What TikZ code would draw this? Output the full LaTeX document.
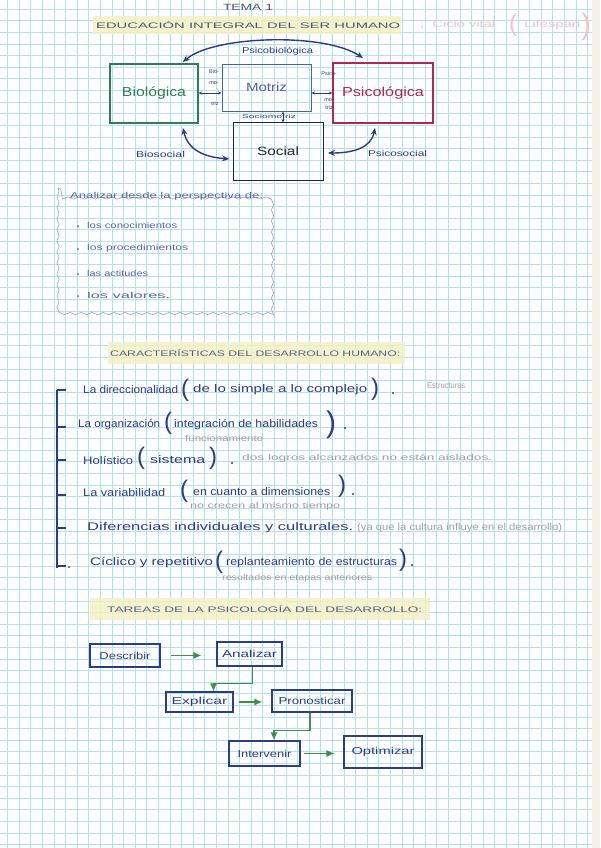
\documentclass[tikz,border=0pt]{standalone}
\usepackage{fontspec}
\setmainfont{Liberation Sans}
\usepackage{graphicx}
\usetikzlibrary{arrows.meta,decorations.pathmorphing,calc}
\definecolor{gridc}{HTML}{B3E1EC}
\definecolor{edgec}{HTML}{F4F2E6}
\definecolor{inkblue}{HTML}{2A3C8C}
\definecolor{titlec}{HTML}{4E5670}
\definecolor{headc}{HTML}{56618A}
\definecolor{biogreen}{HTML}{2F7F50}
\definecolor{psired}{HTML}{B3264F}
\definecolor{motblue}{HTML}{4A62A8}
\definecolor{soccol}{HTML}{23233A}
\definecolor{wavyc}{HTML}{5667A6}
\definecolor{wavyline}{HTML}{9AA3C4}
\definecolor{pencilc}{HTML}{A0A0A0}
\definecolor{pinkc}{HTML}{F0C2CF}
\definecolor{hlc}{HTML}{F3F0C2}
\definecolor{garrowc}{HTML}{3D8F4A}
\newcommand\fitw[2]{\resizebox{#1pt}{\height}{#2}}
\tikzset{
  gridline/.style={draw=gridc, line width=0.6pt},
  hl/.style={fill=hlc, opacity=0.8},
  ink/.style={text=inkblue, inner sep=0pt, anchor=west, font=\fontsize{11}{11}\selectfont},
  paren/.style={text=inkblue, inner sep=0pt, font=\fontsize{24}{24}\selectfont},
  pencil/.style={text=pencilc, inner sep=0pt, anchor=west, font=\fontsize{8.5}{8.5}\selectfont},
  wtext/.style={text=wavyc, inner sep=0pt, anchor=west, font=\fontsize{8.5}{8.5}\selectfont},
  headtext/.style={text=headc, inner sep=0pt, anchor=west, font=\fontsize{8}{8}\selectfont},
  blab/.style={text=inkblue, inner sep=0pt, font=\fontsize{8.5}{8.5}\selectfont},
  tiny/.style={text=inkblue, inner sep=0pt, font=\fontsize{5.5}{5.5}\selectfont},
  barrow/.style={draw=inkblue, line width=1.4pt, {Stealth[length=7pt,width=6pt]}-{Stealth[length=7pt,width=6pt]}},
  sarrow/.style={draw=inkblue, line width=0.7pt, {Stealth[length=3.5pt,width=3pt]}-{Stealth[length=3.5pt,width=3pt]}},
  fbox/.style={draw=inkblue, line width=1.1pt, text=inkblue, inner sep=0pt, font=\fontsize{10}{10}\selectfont},
  garrow/.style={draw=garrowc, line width=1.4pt, -{Latex[length=8pt,width=7pt]}},
  wavy/.style={draw=wavyline, line width=0.6pt, decorate, decoration={snake, amplitude=1.1pt, segment length=11pt}},
}
\begin{document}
\begin{tikzpicture}[x=1pt,y=-1pt]
\useasboundingbox (0,0) rectangle (600,848);
\fill[white] (0,0) rectangle (600,848);
\fill[edgec] (592,0) rectangle (600,848);
% grid paper
\foreach \i in {0,...,50} { \draw[gridline] ({7.5+11.6*\i},0) -- ++(0,848); }
\foreach \j in {0,...,72} { \draw[gridline] (0,{9.2+11.6*\j}) -- ++(592,0); }

% ---------- title ----------
\node[text=titlec, inner sep=0pt, font=\fontsize{9}{9}\selectfont] (tema) at (248,7) {\fitw{50}{TEMA 1}};
\fill[hl] (93,16) rectangle (401,34);
\node[text=titlec, inner sep=0pt, anchor=west, font=\fontsize{8}{8}\selectfont] (edu) at (96,25) {\fitw{304}{EDUCACIÓN INTEGRAL DEL SER HUMANO}};
\node[text=pinkc, inner sep=0pt, anchor=west, font=\fontsize{10}{10}\selectfont] (ciclo) at (420,25) {\fitw{75}{;\ \ Ciclo vital}};
\node[text=pinkc, inner sep=0pt, font=\fontsize{24}{24}\selectfont] (cpa) at (513,25) {(};
\node[text=pinkc, inner sep=0pt, anchor=west, font=\fontsize{10}{10}\selectfont] (life) at (524,25) {\fitw{56}{Lifespan}};
\node[text=pinkc, inner sep=0pt, font=\fontsize{30}{30}\selectfont] (cpb) at (586,27) {)};

% ---------- dimensions diagram ----------
\node[draw=biogreen, line width=1.1pt, minimum width=88pt, minimum height=59pt, inner sep=0pt, text=biogreen, font=\fontsize{13}{13}\selectfont] (bio) at (154,93.5) {\fitw{64}{Biológica}};
\node[draw=motblue, line width=0.9pt, minimum width=89pt, minimum height=47pt, inner sep=0pt, text=motblue, font=\fontsize{12}{12}\selectfont] (motriz) at (266.5,87.5) {\fitw{41}{Motriz}};
\node[draw=psired, line width=1.3pt, minimum width=100pt, minimum height=60pt, inner sep=0pt, text=psired, font=\fontsize{13}{13}\selectfont] (psico) at (383,93) {\fitw{82}{Psicológica}};
\node[draw=soccol, line width=1pt, minimum width=90pt, minimum height=57pt, inner sep=0pt, text=soccol, font=\fontsize{12}{12}\selectfont] (social) at (278,151.5) {\fitw{42}{Social}};

\coordinate (pbL) at (183,62);
\coordinate (pbR) at (363,58);
\draw[barrow] (pbL) .. controls +(30,-26) and +(-40,-26) .. (pbR);
\node[blab] (lpb) at (277.5,51) {\fitw{71}{Psicobiológica}};

\coordinate (bsA) at (183,128);
\coordinate (bsB) at (229,159);
\draw[barrow] (bsA) .. controls +(5,22) and +(-25,-2) .. (bsB);
\node[blab] (lbs) at (160.5,154) {\fitw{49}{Biosocial}};

\coordinate (psA) at (375,128);
\coordinate (psB) at (328,153);
\draw[barrow] (psA) .. controls +(-4,20) and +(25,0) .. (psB);
\node[blab] (lps) at (397.5,153) {\fitw{59}{Psicosocial}};

\coordinate (bm) at (0,93);
\draw[sarrow] (bio.east |- bm) -- (motriz.west |- bm);
\draw[sarrow] (motriz.east |- bm) -- (psico.west |- bm);
\coordinate (sm) at (283,0);
\draw[sarrow] (motriz.south -| sm) -- (social.north -| sm);
\node[tiny] (bm1) at (214,72) {Bio-};
\node[tiny] (bm2) at (214,83) {mo-};
\node[tiny] (bm3) at (215,104) {triz};
\node[tiny] (pm1) at (329,74) {Psico-};
\node[tiny] (pm2) at (329,100) {mo-};
\node[tiny] (pm3) at (329,108) {triz};
\node[tiny] (smt) at (269,117) {\fitw{54}{Sociomotriz}};

% ---------- wavy box ----------
\draw[wavy] (58,188) rectangle (272,308);
\node[wtext] (w0) at (70,196) {\fitw{193}{Analizar desde la perspectiva de:}};
\foreach \yy/\ww/\tt/\nn in {225/90/los conocimientos/w1, 248/101/los procedimientos/w2, 273/61/las actitudes/w3, 295/83/los valores./w4} {
  \fill[wavyc] (78,\yy+1) circle (1pt);
  \node[wtext] (\nn) at (87,\yy) {\fitw{\ww}{\tt}};
}

% ---------- characteristics ----------
\fill[hl] (108,342) rectangle (405,364);
\node[headtext] (carh) at (110,353) {\fitw{290}{CARACTERÍSTICAS DEL DESARROLLO HUMANO:}};

\draw[inkblue, line width=1.1pt] (57,390) -- (57,568);
\foreach \yy in {390,427,460,495,528,566} { \draw[inkblue, line width=1.1pt] (57,\yy) -- (66,\yy); }
\fill[inkblue] (69,567) circle (1pt);

% item 1
\node[ink] (i1a) at (83,390) {\fitw{95}{La direccionalidad}};
\node[paren] (i1b) at (185,390) {(};
\node[ink] (i1c) at (193,390) {\fitw{174}{de lo simple a lo complejo}};
\node[paren] (i1d) at (375,389) {)};
\fill[inkblue] (393,393) circle (1.2pt);
\node[pencil] (p1) at (427,386) {\fitw{38}{Estructuras}};
% item 2
\node[ink] (i2a) at (78,425) {\fitw{82}{La organización}};
\node[paren] (i2b) at (168,423) {(};
\node[ink] (i2c) at (174,425) {\fitw{144}{integración de habilidades}};
\node[paren, font=\fontsize{30}{30}\selectfont] (i2d) at (331,425) {)};
\fill[inkblue] (345,428) circle (1.2pt);
\node[pencil] (p2) at (185,438) {\fitw{78}{funcionamiento}};
% item 3
\node[ink] (i3a) at (83,460) {\fitw{50}{Holístico}};
\node[paren] (i3b) at (141,458) {(};
\node[ink] (i3c) at (150,460) {\fitw{55}{sistema}};
\node[paren] (i3d) at (213,458) {)};
\fill[inkblue] (232,463) circle (1.2pt);
\node[pencil] (p3) at (242,458) {\fitw{250}{dos logros alcanzados no están aislados.}};
% item 4
\node[ink] (i4a) at (83,493) {\fitw{82}{La variabilidad}};
\node[paren] (i4b) at (184,491) {(};
\node[ink] (i4c) at (193,492) {\fitw{137}{en cuanto a dimensiones}};
\node[paren] (i4d) at (342,486) {)};
\fill[inkblue] (353,494) circle (1.2pt);
\node[pencil] (p4) at (190,506) {\fitw{150}{no crecen al mismo tiempo}};
% item 5
\node[ink] (i5a) at (87,528) {\fitw{266}{Diferencias individuales y culturales.}};
\node[pencil, font=\fontsize{10}{10}\selectfont] (p5) at (357,528) {\fitw{205}{(ya que la cultura influye en el desarrollo)}};
% item 6
\node[ink] (i6a) at (90,563) {\fitw{123}{Cíclico y repetitivo}};
\node[paren] (i6b) at (219,562) {(};
\node[ink] (i6c) at (226,563) {\fitw{171}{replanteamiento de estructuras}};
\node[paren] (i6d) at (403,560) {)};
\fill[inkblue] (412,565) circle (1.2pt);
\node[pencil] (p6) at (222,578) {\fitw{150}{resultados en etapas anteriores}};

% ---------- tasks ----------
\fill[hl] (90,598) rectangle (430,620);
\node[headtext] (tarh) at (107,609) {\fitw{315}{TAREAS DE LA PSICOLOGÍA DEL DESARROLLO:}};

\node[fbox, minimum width=70pt, minimum height=23pt] (describir) at (125,655.5) {\fitw{51}{Describir}};
\node[fbox, minimum width=65pt, minimum height=24pt] (analizar) at (249.5,654) {\fitw{55}{Analizar}};
\node[fbox, minimum width=67pt, minimum height=20pt] (explicar) at (199.5,702) {\fitw{56}{Explicar}};
\node[fbox, minimum width=80pt, minimum height=22pt] (pronosticar) at (312,701) {\fitw{67}{Pronosticar}};
\node[fbox, minimum width=71pt, minimum height=25pt] (intervenir) at (264.5,753.5) {\fitw{54}{Intervenir}};
\node[fbox, minimum width=78pt, minimum height=32pt] (optimizar) at (383,752) {\fitw{63}{Optimizar}};

\draw[garrow, shorten <=10pt, shorten >=15pt] (describir.east) -- (describir.east -| analizar.west);
\draw[garrow] ($(analizar.south)+(3,0)$) -- ++(0,17) -| ($(explicar.north)+(14,0)$);
\draw[garrow, shorten <=5pt, shorten >=9pt] (explicar.east) -- (explicar.east -| pronosticar.west);
\draw[garrow] ($(pronosticar.south)+(-2,0)$) -- ++(0,18) -| ($(intervenir.north)+(9.5,0)$);
\draw[garrow, shorten <=3pt, shorten >=9pt] (intervenir.east) -- (intervenir.east -| optimizar.west);
\end{tikzpicture}
\end{document}
